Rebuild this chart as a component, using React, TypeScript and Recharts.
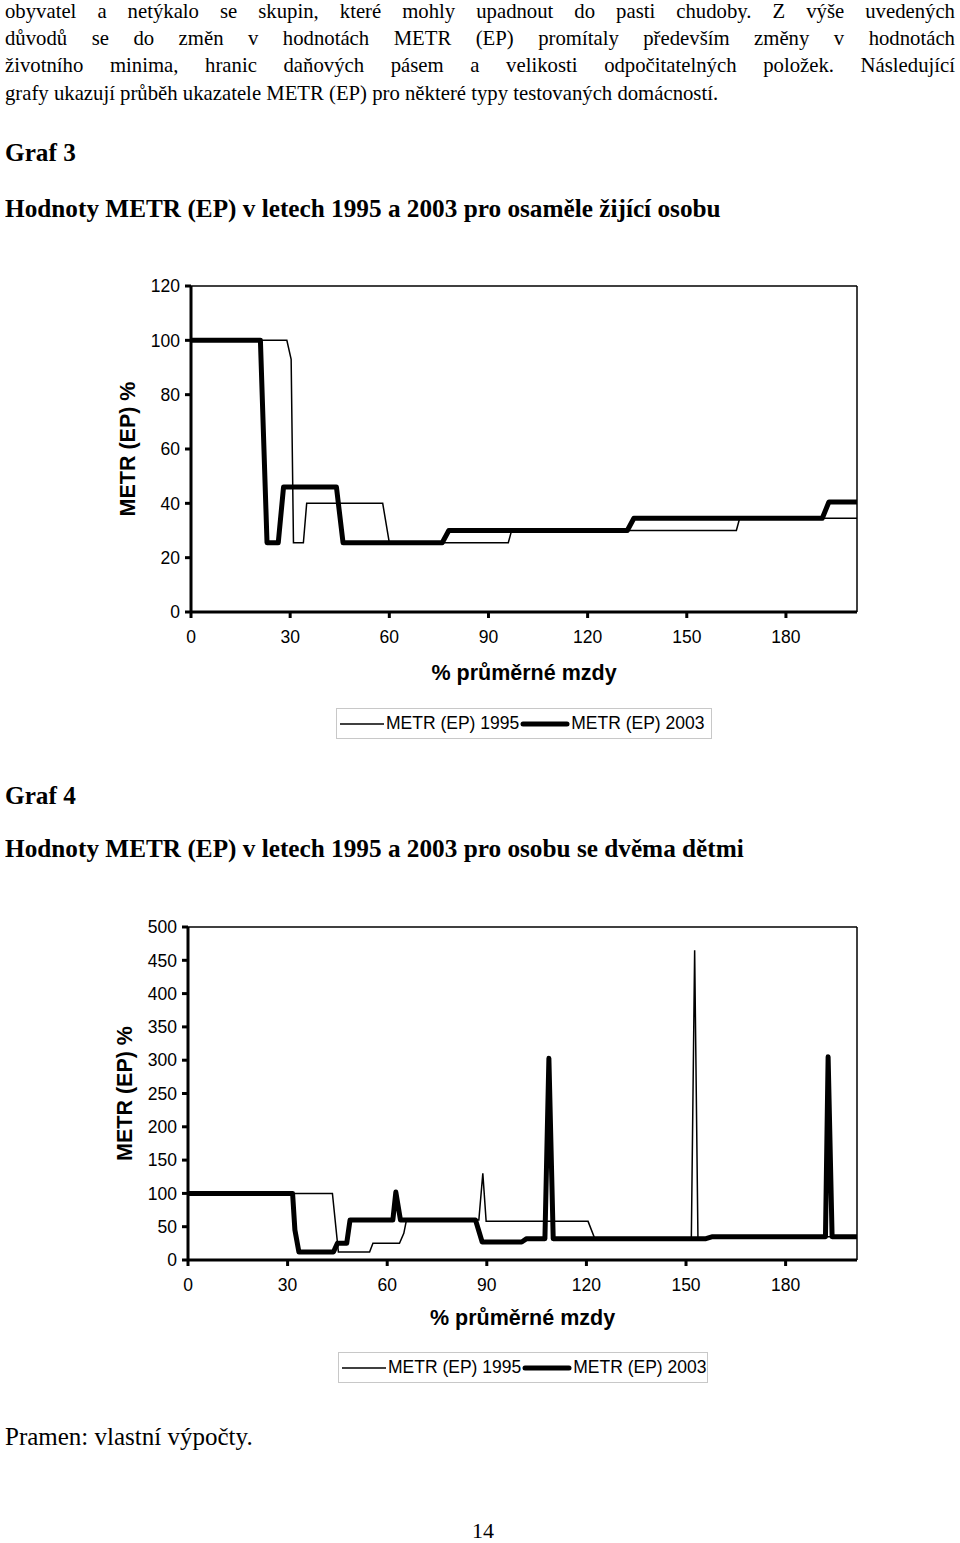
import { LineChart, Line, XAxis, YAxis, ReferenceLine } from "recharts";

// x axis: % průměrné mzdy
const xTicks = [0, 30, 60, 90, 120, 150, 180];
const xMax = 201.5;

// Graf 3 - osaměle žijící osoba
const g3YTicks = [0, 20, 40, 60, 80, 100, 120];
const g3X1995 = [0, 29, 30.3, 31, 34, 35, 58, 60, 96, 97, 165, 166, 201.5];
const g3Y1995 = [100, 100, 93, 25.5, 25.5, 40, 40, 25.5, 25.5, 30, 30, 34.5, 34.5];
const g3X2003 = [0, 21, 23, 26.4, 28, 44, 46, 76, 78, 132, 134, 191, 193, 201.5];
const g3Y2003 = [100, 100, 25.5, 25.5, 46, 46, 25.5, 25.5, 30, 30, 34.5, 34.5, 40.5, 40.5];

// Graf 4 - osoba se dvěma dětmi
const g4YTicks = [0, 50, 100, 150, 200, 250, 300, 350, 400, 450, 500];
const g4X1995 = [0, 43.5, 45.3, 54.7, 55.7, 63.7, 65, 65.8, 87.6, 88.8, 89.8, 120.5, 122.6, 151.6, 152.6, 153.6, 156, 158, 201.5];
const g4Y1995 = [100, 100, 12, 12, 25, 25, 40, 60, 60, 130, 58, 58, 31, 31, 465, 31, 32, 35, 35];
const g4X2003 = [0, 31.5, 32.2, 33.4, 43.8, 45, 47.8, 48.8, 61.7, 62.6, 64, 86.6, 88.6, 100.5, 102, 107.5, 108.7, 110, 156, 158, 192, 192.8, 194, 201.5];
const g4Y2003 = [100, 100, 45, 12, 12, 25, 25, 60, 60, 102, 60, 60, 27, 27, 32, 32, 303, 32, 32, 35, 35, 305, 35, 35];

const paragraph = [
  "obyvatel a netýkalo se skupin, které mohly upadnout do pasti chudoby. Z výše uvedených",
  "důvodů se do změn v hodnotách METR (EP) promítaly především změny v hodnotách",
  "životního minima, hranic daňových pásem a velikosti odpočitatelných položek. Následující",
  "grafy ukazují průběh ukazatele METR (EP) pro některé typy testovaných domácností.",
];

const toPoints = (xs: number[], ys: number[]) => xs.map((x, i) => ({ x, y: ys[i] }));

const SERIF = "'Liberation Serif', 'Times New Roman', serif";
const SANS = "'Liberation Sans', Arial, sans-serif";

function TextRow({ text, top, left = 5, size = 21, sx = 0.987, bold = false, width = 950, justify = false }: any) {
  return (
    <div
      style={{
        position: "absolute",
        left,
        top,
        width: width / sx,
        fontFamily: SERIF,
        fontSize: size,
        lineHeight: 1,
        fontWeight: bold ? "bold" : "normal",
        whiteSpace: justify ? "normal" : "nowrap",
        textAlign: justify ? "justify" : "left",
        textAlignLast: justify ? "justify" : "auto",
        transform: `scaleX(${sx})`,
        transformOrigin: "left top",
        color: "#000",
      }}
    >
      {text}
    </div>
  );
}

function LegendBox({ left, top, width }: any) {
  return (
    <div
      style={{
        position: "absolute",
        left,
        top,
        width,
        height: 31,
        border: "1px solid #c8c8c8",
        boxSizing: "border-box",
        display: "flex",
        alignItems: "center",
        paddingLeft: 3,
        fontFamily: SANS,
        fontSize: 17.5,
        color: "#000",
        whiteSpace: "nowrap",
      }}
    >
      <svg width={44} height={10}>
        <line x1={0} y1={5} x2={44} y2={5} stroke="#000" strokeWidth={1.5} />
      </svg>
      <span style={{ marginLeft: 2 }}>METR (EP) 1995</span>
      <svg width={50} height={10} style={{ marginLeft: 1 }}>
        <line x1={3} y1={5} x2={47} y2={5} stroke="#000" strokeWidth={5} strokeLinecap="round" />
      </svg>
      <span style={{ marginLeft: 1 }}>METR (EP) 2003</span>
    </div>
  );
}

function MetrChart({ top, height, marginTop, marginLeft, marginBottom, labelOffset, yTicks, yMax, x1995, y1995, x2003, y2003 }: any) {
  return (
    <div style={{ position: "absolute", left: 0, top, fontFamily: SANS }}>
      <LineChart
        width={960}
        height={height}
        margin={{ top: marginTop, right: 103, bottom: marginBottom, left: marginLeft }}
      >
        <XAxis
          type="number"
          dataKey="x"
          domain={[0, xMax]}
          ticks={xTicks}
          allowDataOverflow
          height={72}
          tickSize={6}
          tickMargin={13}
          axisLine={{ stroke: "#000", strokeWidth: 3 }}
          tickLine={{ stroke: "#000", strokeWidth: 3 }}
          tick={{ fill: "#000", fontSize: 17.5 }}
          label={{
            value: "% průměrné mzdy",
            position: "insideBottom",
            offset: labelOffset,
            style: { fontWeight: "bold", fontSize: 21.5, fill: "#000" },
          }}
        />
        <YAxis
          type="number"
          domain={[0, yMax]}
          ticks={yTicks}
          allowDataOverflow
          width={70}
          tickSize={6}
          tickMargin={5}
          axisLine={{ stroke: "#000", strokeWidth: 3 }}
          tickLine={{ stroke: "#000", strokeWidth: 3 }}
          tick={{ fill: "#000", fontSize: 17.5 }}
          label={{
            value: "METR (EP) %",
            angle: -90,
            position: "insideLeft",
            offset: 6,
            style: { textAnchor: "middle", fontWeight: "bold", fontSize: 21.5, fill: "#000" },
          }}
        />
        <ReferenceLine y={yMax} stroke="#000" strokeWidth={1.5} />
        <ReferenceLine x={xMax} stroke="#000" strokeWidth={1.5} />
        <Line
          data={toPoints(x1995, y1995)}
          dataKey="y"
          type="linear"
          stroke="#000"
          strokeWidth={1.5}
          dot={false}
          isAnimationActive={false}
        />
        <Line
          data={toPoints(x2003, y2003)}
          dataKey="y"
          type="linear"
          stroke="#000"
          strokeWidth={5}
          strokeLinejoin="round"
          dot={false}
          isAnimationActive={false}
        />
      </LineChart>
    </div>
  );
}

export default function App() {
  return (
    <div style={{ position: "absolute", left: 0, top: 0, width: 960, height: 1543, background: "#fff" }}>
      {paragraph.map((t, i) => (
        <TextRow key={i} text={t} top={0.5 + i * 27.4} justify={i < 3} />
      ))}
      <TextRow text="Graf 3" top={140} size={25} sx={1.01} bold />
      <TextRow text="Hodnoty METR (EP) v letech 1995 a 2003 pro osaměle žijící osobu" top={196} size={25} sx={1.01} bold />
      <MetrChart
        top={260}
        height={430}
        marginTop={26}
        marginLeft={121}
        marginBottom={6}
        labelOffset={4}
        yTicks={g3YTicks}
        yMax={120}
        x1995={g3X1995}
        y1995={g3Y1995}
        x2003={g3X2003}
        y2003={g3Y2003}
      />
      <LegendBox left={336} top={708} width={376} />
      <TextRow text="Graf 4" top={783} size={25} sx={1.01} bold />
      <TextRow text="Hodnoty METR (EP) v letech 1995 a 2003 pro osobu se dvěma dětmi" top={836} size={25} sx={1.01} bold />
      <MetrChart
        top={900}
        height={440}
        marginTop={27}
        marginLeft={118}
        marginBottom={8}
        labelOffset={7}
        yTicks={g4YTicks}
        yMax={500}
        x1995={g4X1995}
        y1995={g4Y1995}
        x2003={g4X2003}
        y2003={g4Y2003}
      />
      <LegendBox left={338} top={1352} width={370} />
      <TextRow text="Pramen: vlastní výpočty." top={1424} size={25} sx={1} />
      <TextRow text="14" top={1520} left={472} size={22} sx={1} />
    </div>
  );
}
